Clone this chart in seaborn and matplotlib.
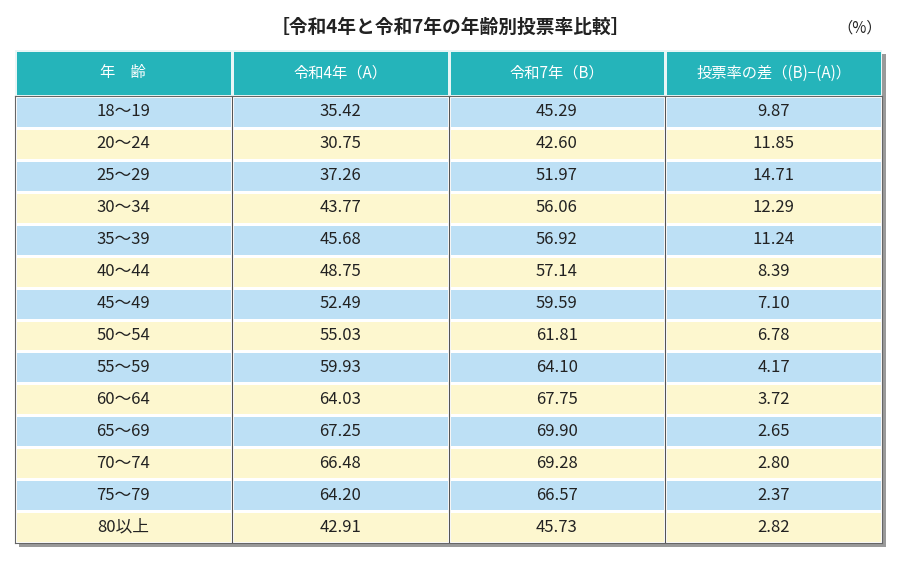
import matplotlib
matplotlib.use("Agg")
import matplotlib.pyplot as plt
import seaborn as sns
import numpy as np
from matplotlib.colors import ListedColormap

sns.set_theme(style="white")
plt.rcParams['font.family'] = ['Noto Sans CJK JP', 'DejaVu Sans']

title = "［令和4年と令和7年の年齢別投票率比較］"
unit = "（%）"
headers = ["年　齢", "令和4年（A）", "令和7年（B）", "投票率の差（(B)−(A)）"]
ages = ["18～19", "20～24", "25～29", "30～34", "35～39", "40～44", "45～49",
        "50～54", "55～59", "60～64", "65～69", "70～74", "75～79", "80以上"]
r4 = [35.42, 30.75, 37.26, 43.77, 45.68, 48.75, 52.49, 55.03, 59.93, 64.03, 67.25, 66.48, 64.20, 42.91]
r7 = [45.29, 42.60, 51.97, 56.06, 56.92, 57.14, 59.59, 61.81, 64.10, 67.75, 69.90, 69.28, 66.57, 45.73]
diff = [9.87, 11.85, 14.71, 12.29, 11.24, 8.39, 7.10, 6.78, 4.17, 3.72, 2.65, 2.80, 2.37, 2.82]

W, H = 908, 575
fig = plt.figure(figsize=(W/100, H/100), dpi=100)
fig.patch.set_facecolor("white")

L, R, T, HB, B = 15, 882, 50, 96, 543
sh = fig.add_axes([(L+4)/W, 1-(B+4)/H, (R-L)/W, (B-T)/H])
sh.set_facecolor("#9a9a9a"); sh.set_xticks([]); sh.set_yticks([])
for s in sh.spines.values(): s.set_visible(False)

axh = fig.add_axes([L/W, 1-HB/H, (R-L)/W, (HB-T)/H])
sns.heatmap(np.zeros((1, 4)), ax=axh, cmap=ListedColormap(["#25b4ba"]), cbar=False,
            linewidths=1, linecolor="#e8f6f6", xticklabels=False, yticklabels=False)
for j, h in enumerate(headers):
    axh.text(j+0.5, 0.5, h, ha="center", va="center", color="white", fontsize=11)

n = len(ages)
codes = np.array([[i % 2]*4 for i in range(n)])
axb = fig.add_axes([L/W, 1-B/H, (R-L)/W, (B-HB)/H])
sns.heatmap(codes, ax=axb, cmap=ListedColormap(["#bde0f5", "#fdf7cf"]), cbar=False,
            linewidths=0.8, linecolor="white", xticklabels=False, yticklabels=False)
for j in range(1, 4):
    axb.axvline(j, color="#555555", lw=0.8)
for i in range(n):
    vals = [ages[i], f"{r4[i]:.2f}", f"{r7[i]:.2f}", f"{diff[i]:.2f}"]
    for j, v in enumerate(vals):
        axb.text(j+0.5, i+0.5, v, ha="center", va="center", color="#222222", fontsize=12)
for s in axb.spines.values():
    s.set_visible(True); s.set_color("#666666"); s.set_linewidth(0.8)

fig.text(450/W, 1-27/H, title, ha="center", va="center", fontsize=13.5, fontweight="bold", color="#222222")
fig.text(860/W, 1-28/H, unit, ha="center", va="center", fontsize=11, color="#222222")
fig.savefig("out.png", dpi=100)
